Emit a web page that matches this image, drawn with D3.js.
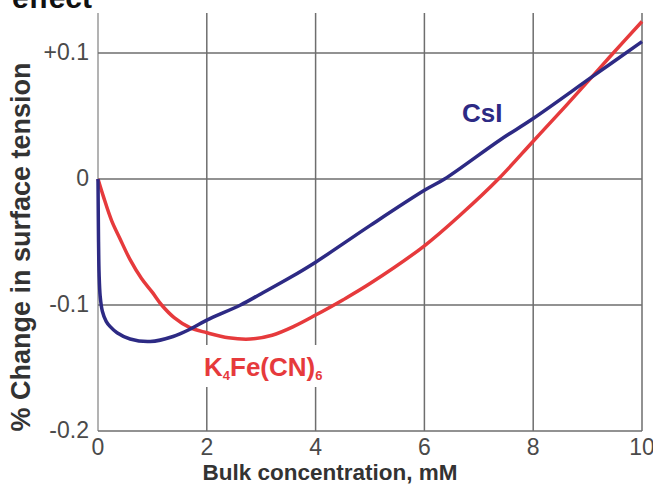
<!DOCTYPE html>
<html>
<head>
<meta charset="utf-8">
<script src="https://cdn.jsdelivr.net/npm/d3@7"></script>
<style>
  body { margin: 0; background: #fff; }
  text { font-family: "Liberation Sans", Arial, sans-serif; }
</style>
</head>
<body>
<div id="chart"></div>
<script>
// values
const csiX = [0, 0.01, 0.02, 0.04, 0.08, 0.15, 0.22, 0.35, 0.59, 0.96, 1.38, 1.7, 2, 2.62, 3, 3.54, 4, 5, 6, 6.37, 7.39, 8, 9.08, 10];
const csiY = [0, -0.05, -0.075, -0.093, -0.105, -0.113, -0.117, -0.122, -0.127, -0.129, -0.125, -0.119, -0.112, -0.1, -0.091, -0.078, -0.066, -0.037, -0.009, 0, 0.031, 0.048, 0.081, 0.109];

const kfeX = [0, 0.1, 0.25, 0.4, 0.59, 0.8, 1.0, 1.17, 1.4, 1.69, 2, 2.4, 2.8, 3.2, 3.6, 4, 4.5, 5, 6, 6.7, 7.36, 8, 8.6, 9.08, 9.41, 10];
const kfeY = [0, -0.014, -0.033, -0.047, -0.064, -0.079, -0.09, -0.1, -0.11, -0.118, -0.122, -0.126, -0.127, -0.124, -0.117, -0.108, -0.096, -0.083, -0.053, -0.027, 0, 0.03, 0.058, 0.081, 0.097, 0.125];

const xTicks = [0, 2, 4, 6, 8, 10];
const yTicks = [0.1, 0, -0.1, -0.2];
const yTickLabels = ["+0.1", "0", "-0.1", "-0.2"];

const W = 653, H = 486;
const plotTop = 13;

const svg = d3.select("#chart")
  .append("svg")
    .attr("width", W)
    .attr("height", H);

const x = d3.scaleLinear().domain([0, 10]).range([98, 642]);
const y = d3.scaleLinear().domain([-0.2, 0.1]).range([431, 53]);

// cut-off title at top
svg.append("text")
  .attr("x", 12).attr("y", 8)
  .attr("font-size", 30).attr("font-weight", "bold").attr("fill", "#111")
  .text("effect");

// grid
const grid = svg.append("g").attr("stroke", "#6e6e6e").attr("stroke-width", 1.5);
grid.selectAll(".v").data(xTicks).join("line")
  .attr("x1", d => x(d)).attr("x2", d => x(d))
  .attr("y1", plotTop).attr("y2", y(-0.2))
  .attr("stroke", d => d === 0 ? "#9a9a9a" : null);
grid.selectAll(".h").data(yTicks).join("line")
  .attr("x1", x(0)).attr("x2", x(10))
  .attr("y1", d => y(d)).attr("y2", d => y(d));

// tick labels
svg.append("g").selectAll("text").data(yTicks).join("text")
  .attr("x", x(0) - 9).attr("y", d => y(d))
  .attr("dy", "0.3em")
  .attr("text-anchor", "end")
  .attr("font-size", 23).attr("fill", "#4a4a4a")
  .text((d, i) => yTickLabels[i]);

svg.append("g").selectAll("text").data(xTicks).join("text")
  .attr("x", d => x(d)).attr("y", 455)
  .attr("text-anchor", "middle")
  .attr("font-size", 23).attr("fill", "#4a4a4a")
  .text(d => d);

// axis titles
svg.append("text")
  .attr("x", 330).attr("y", 480)
  .attr("text-anchor", "middle")
  .attr("font-size", 22.5).attr("font-weight", "bold").attr("fill", "#333")
  .text("Bulk concentration, mM");

svg.append("text")
  .attr("transform", "translate(30,247) rotate(-90)")
  .attr("text-anchor", "middle")
  .attr("font-size", 27).attr("font-weight", "bold").attr("fill", "#333")
  .text("% Change in surface tension");

// curves
const line = d3.line().curve(d3.curveCatmullRom.alpha(0.5))
  .x(d => x(d[0])).y(d => y(d[1]));

svg.append("path")
  .datum(kfeX.map((v, i) => [v, kfeY[i]]))
  .attr("d", line)
  .attr("fill", "none").attr("stroke", "#e63a3c").attr("stroke-width", 3.5);

svg.append("path")
  .datum(csiX.map((v, i) => [v, csiY[i]]))
  .attr("d", line)
  .attr("fill", "none").attr("stroke", "#2d2a84").attr("stroke-width", 3.5);

// labels
svg.append("text")
  .attr("x", 462).attr("y", 122)
  .attr("font-size", 26).attr("font-weight", "bold").attr("fill", "#2d2a84")
  .text("CsI");

svg.append("rect")
  .attr("x", 196).attr("y", 345).attr("width", 142).attr("height", 42)
  .attr("fill", "#fff");

const kLab = svg.append("text")
  .attr("x", 204).attr("y", 376)
  .attr("font-size", 26).attr("font-weight", "bold").attr("fill", "#e63a3c");
kLab.append("tspan").text("K");
kLab.append("tspan").attr("font-size", 13).attr("dy", 4).text("4");
kLab.append("tspan").attr("dy", -4).text("Fe(CN)");
kLab.append("tspan").attr("font-size", 13).attr("dy", 4).text("6");
</script>
</body>
</html>
